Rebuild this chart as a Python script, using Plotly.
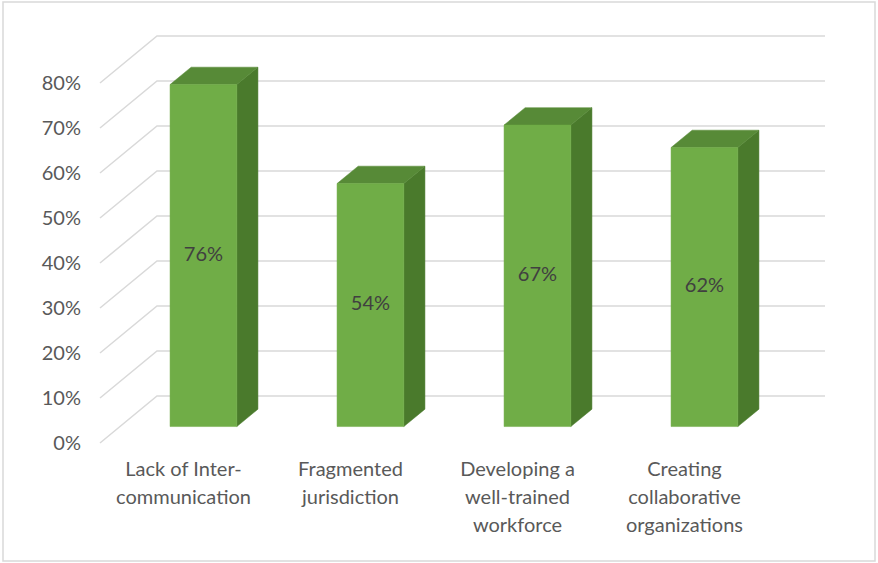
import plotly.graph_objects as go

# ---- chart data -------------------------------------------------------------
categories = [
    "Lack of Inter-\ncommunication",
    "Fragmented\njurisdiction",
    "Developing a\nwell-trained\nworkforce",
    "Creating\ncollaborative\norganizations",
]
values = [76, 54, 67, 62]
tick_values = [0, 10, 20, 30, 40, 50, 60, 70, 80]
tick_labels = ["0%", "10%", "20%", "30%", "40%", "50%", "60%", "70%", "80%"]

# ---- pseudo-3D geometry (data units) -----------------------------------------
PX_X = 167.0          # pixels per category
PX_Y = 4.5            # pixels per percentage point
DX = 57.0 / PX_X      # horizontal shift from the front plane to the back wall
DY = 47.0 / PX_Y      # vertical shift from the front plane to the back wall
BAR_W = 0.40          # bar width in category units
D_FRONT = 0.35        # depth of the bar front face (0 = front, 1 = back)
D_BACK = 0.72         # depth of the bar back face
N = len(categories)

FRONT = "#70AD47"
TOP = "#578A37"
SIDE = "#4A7A2C"
GRID = "#D9D9D9"
TEXT = "#595959"
FONT = "Lato, Carlito, Calibri, sans-serif"
FS = 20


def proj(x, y, d):
    return x + d * DX, y + d * DY


fig = go.Figure()

# back wall and side wall gridlines
gx, gy = [], []
for v in tick_values:
    x0, y0 = proj(0, v, 0)
    x1, y1 = proj(0, v, 1)
    x2, y2 = proj(N, v, 1)
    gx += [x0, x1, x2, None]
    gy += [y0, y1, y2, None]
fig.add_trace(go.Scatter(x=gx, y=gy, mode="lines",
                         line=dict(color=GRID, width=1.5),
                         hoverinfo="skip", showlegend=False))


def face(points, color):
    xs = [p[0] for p in points] + [points[0][0]]
    ys = [p[1] for p in points] + [points[0][1]]
    fig.add_trace(go.Scatter(x=xs, y=ys, mode="lines", fill="toself",
                             fillcolor=color, line=dict(color=color, width=0.5),
                             hoverinfo="skip", showlegend=False))


label_x, label_y, label_t = [], [], []
for i, v in enumerate(values):
    c = i + 0.5
    xl, xr = c - BAR_W / 2, c + BAR_W / 2
    # right side face
    face([proj(xr, 0, D_FRONT), proj(xr, v, D_FRONT),
          proj(xr, v, D_BACK), proj(xr, 0, D_BACK)], SIDE)
    # top face
    face([proj(xl, v, D_FRONT), proj(xr, v, D_FRONT),
          proj(xr, v, D_BACK), proj(xl, v, D_BACK)], TOP)
    # front face
    face([proj(xl, 0, D_FRONT), proj(xr, 0, D_FRONT),
          proj(xr, v, D_FRONT), proj(xl, v, D_FRONT)], FRONT)
    mx, my = proj(c, v / 2, D_FRONT)
    label_x.append(mx)
    label_y.append(my)
    label_t.append(f"{v}%")

# value labels on the bars
fig.add_trace(go.Scatter(x=label_x, y=label_y, mode="text", text=label_t,
                         textposition="middle center",
                         textfont=dict(family=FONT, size=FS, color="#404040"),
                         hoverinfo="skip", showlegend=False))

# category labels under the front edge, one text point per line
LINE0 = -28.0 / PX_Y
LINE_STEP = 28.0 / PX_Y
cx, cy, ct = [], [], []
for i, name in enumerate(categories):
    for j, line in enumerate(name.split("\n")):
        cx.append(i + 0.5)
        cy.append(LINE0 - j * LINE_STEP)
        ct.append(line)
fig.add_trace(go.Scatter(x=cx, y=cy, mode="text", text=ct,
                         textposition="middle center",
                         textfont=dict(family=FONT, size=FS, color=TEXT),
                         hoverinfo="skip", showlegend=False))

W, H = 878, 563
L = 88
fig.update_layout(
    width=W, height=H,
    margin=dict(l=L, r=0, t=0, b=0),
    paper_bgcolor="white", plot_bgcolor="white",
    xaxis=dict(range=[(L - 100) / PX_X, (W - 100) / PX_X], visible=False, fixedrange=True),
    yaxis=dict(range=[(443 - H) / PX_Y, 443 / PX_Y], showgrid=False, zeroline=False,
               showline=False, ticks="", tickvals=tick_values, ticktext=tick_labels,
               tickfont=dict(family=FONT, size=FS, color=TEXT), ticklabelstandoff=6,
               fixedrange=True),
    shapes=[dict(type="rect", xref="paper", yref="paper",
                 x0=(3 - L) / (W - L), x1=(875 - L) / (W - L),
                 y0=(H - 561) / H, y1=(H - 2) / H,
                 line=dict(color=GRID, width=1.5), layer="below")],
)

fig.write_html("out.html")
